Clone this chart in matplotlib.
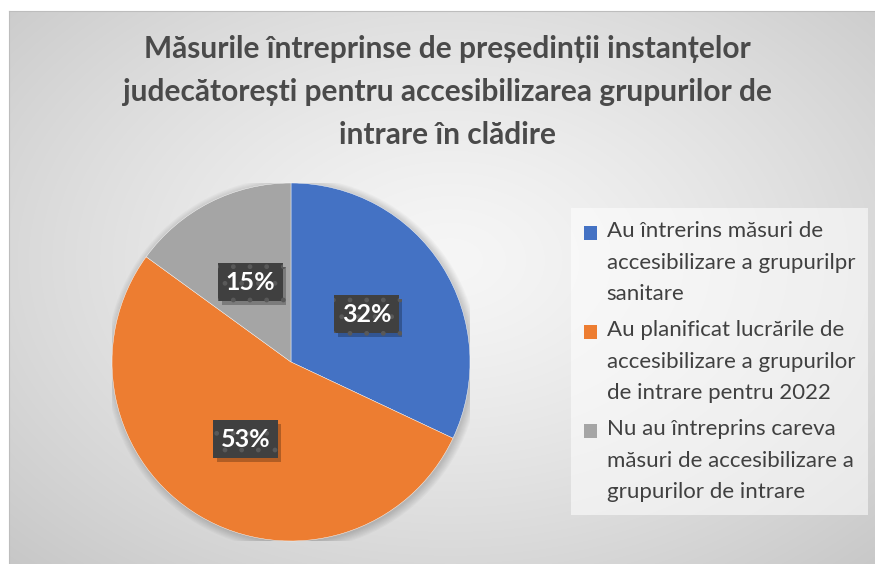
import numpy as np
import matplotlib
matplotlib.use("Agg")
import matplotlib.pyplot as plt
import matplotlib.patheffects as pe
from matplotlib.patches import Circle, Rectangle, Wedge
from matplotlib.legend_handler import HandlerPatch

plt.rcParams['font.family'] = ['Lato', 'DejaVu Sans']

# ── data ──────────────────────────────────────────────────────
title = ("Măsurile întreprinse de președinții instanțelor\n"
         "judecătorești pentru accesibilizarea grupurilor de\n"
         "intrare în clădire")
labels = ["Au întrerins măsuri de\naccesibilizare a grupurilpr\nsanitare",
          "Au planificat lucrările de\naccesibilizare a grupurilor\nde intrare pentru 2022",
          "Nu au întreprins careva\nmăsuri de accesibilizare a\ngrupurilor de intrare"]
values = [32, 53, 15]
colors = ["#4472C4", "#ED7D31", "#A5A5A5"]

W, H = 875, 564
LEG_FS = 16
LEG_LS = 1.71          # matplotlib linespacing (relative to ascent)
LEG_STEP_PT = 29.7 * 0.72   # one legend line, in points

fig = plt.figure(figsize=(W / 100, H / 100), dpi=100)
fig.patch.set_facecolor("white")

# ── chart area background (radial gradient) ───────────────────
x0, y_top = 9, 11
bg = fig.add_axes([x0 / W, 0, 1 - x0 / W, 1 - y_top / H])
yy, xx = np.mgrid[y_top:H, x0:W]
d = np.sqrt(((xx - 450) / 440) ** 2 + ((yy - 260) / 300) ** 2)
shade = 246 - 48 * np.clip(d / 1.45, 0, 1) ** 1.3
img = np.dstack([shade, shade, shade]) / 255
bg.imshow(img, aspect="auto", interpolation="bilinear")
bg.set_xticks([])
bg.set_yticks([])
for side in ["right", "bottom"]:
    bg.spines[side].set_visible(False)
for side in ["left", "top"]:
    bg.spines[side].set_color("#bdbdbd")
    bg.spines[side].set_linewidth(0.8)

# va="baseline" pins the last line's baseline
fig.text(447 / W, 1 - 144 / H, title, ha="center", va="baseline",
         fontsize=21.5, fontweight="bold", color="#4a4a4a", linespacing=1.66)

# ── pie ───────────────────────────────────────────────────────
cx, cy, r = 291, 362, 179
ax = fig.add_axes([(cx - r) / W, (H - cy - r) / H, 2 * r / W, 2 * r / H])
ax.axis("off")

# soft shadow round the pie
for k in range(8):
    ax.add_patch(Circle((0.01, -0.01), 1.0 + 0.006 * k, color="black",
                        alpha=0.025, lw=0, zorder=0))

wedges, texts, autotexts = ax.pie(
    values, colors=colors, startangle=90, counterclock=False,
    radius=1, autopct="%1.0f%%", pctdistance=0.5,
    wedgeprops=dict(linewidth=0.3, edgecolor="white"),
    textprops=dict(color="white", fontsize=18, fontweight="bold"))
ax.set_xlim(-1.0, 1.0)
ax.set_ylim(-1.0, 1.0)

for t in autotexts:
    t.set_bbox(dict(boxstyle="square,pad=0.3", facecolor="#404040",
                    edgecolor="#595959", linewidth=0, hatch="."))
    t.get_bbox_patch().set_path_effects([
        pe.withSimplePatchShadow(offset=(2.5, -2.5), shadow_rgbFace="black", alpha=0.25)])


# ── legend ────────────────────────────────────────────────────
class TopSquare(HandlerPatch):
    # put the colour square next to the first line of a 3-line label
    def create_artists(self, legend, orig_handle, xdescent, ydescent,
                       width, height, fontsize, trans):
        p = Rectangle((-xdescent, -ydescent + LEG_STEP_PT), width, height,
                      facecolor=orig_handle.get_facecolor(), lw=0,
                      transform=trans)
        return [p]


leg = fig.legend(wedges, labels, loc="upper left",
                 bbox_to_anchor=(571 / W, 1 - 208 / H),
                 fontsize=LEG_FS, frameon=True, fancybox=False,
                 handlelength=0.55, handleheight=0.55, handletextpad=0.45,
                 labelspacing=0.73, borderpad=0.6, borderaxespad=0,
                 handler_map={Wedge: TopSquare()})
frame = leg.get_frame()
frame.set_facecolor("white")
frame.set_alpha(0.55)
frame.set_linewidth(0)
for t in leg.get_texts():
    t.set_color("#404040")
    t.set_linespacing(LEG_LS)

fig.savefig("out.png", dpi=100)
